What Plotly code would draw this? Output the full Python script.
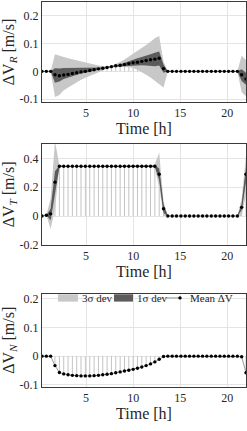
import plotly.graph_objects as go

# ---------------- data ----------------
time_h = [0.31, 0.77, 1.23, 1.69, 2.16, 2.62, 3.08, 3.54, 4.00, 4.46, 4.92, 5.39,
          5.85, 6.31, 6.77, 7.23, 7.69, 8.15, 8.62, 9.08, 9.54, 10.00, 10.46, 10.92,
          11.38, 11.85, 12.31, 12.77, 13.23, 13.69, 14.15, 14.61, 15.08, 15.54, 16.00, 16.46,
          16.92, 17.38, 17.84, 18.31, 18.77, 19.23, 19.69, 20.15, 20.61, 21.08, 21.54, 22.00]

# Radial
dvr_mean = [0, 0, 0, -0.012, -0.016, -0.013, -0.011, -0.008, -0.005, -0.002, 0.000, 0.003,
            0.006, 0.009, 0.011, 0.014, 0.017, 0.020, 0.022, 0.025, 0.028, 0.031, 0.033, 0.036,
            0.039, 0.042, 0.044, 0.047, 0.010, 0, 0, 0, 0, 0, 0, 0,
            0, 0, 0, 0, 0, 0, 0, 0, 0, 0, -0.012, -0.028]
dvr_up3 = [0, 0, 0, 0.062, 0.058, 0.052, 0.047, 0.043, 0.039, 0.035, 0.031, 0.027,
           0.024, 0.021, 0.019, 0.018, 0.020, 0.026, 0.034, 0.043, 0.053, 0.062, 0.072, 0.083,
           0.095, 0.107, 0.119, 0.127, 0.035, 0, 0, 0, 0, 0, 0, 0,
           0, 0, 0, 0, 0, 0, 0, 0, 0, 0, 0.057, 0.040]
dvr_lo3 = [0, 0, 0, -0.092, -0.085, -0.068, -0.058, -0.047, -0.038, -0.030, -0.023, -0.016,
           -0.010, -0.004, 0.003, 0.009, 0.014, 0.015, 0.016, 0.016, 0.015, 0.012, 0.006, -0.002,
           -0.012, -0.022, -0.034, -0.045, -0.058, 0, 0, 0, 0, 0, 0, 0,
           0, 0, 0, 0, 0, 0, 0, 0, 0, 0, -0.075, -0.090]
dvr_up1 = [0, 0, 0, 0.011, 0.010, 0.012, 0.012, 0.013, 0.013, 0.013, 0.013, 0.013,
           0.013, 0.013, 0.014, 0.015, 0.018, 0.022, 0.026, 0.031, 0.037, 0.042, 0.047, 0.052,
           0.058, 0.062, 0.067, 0.072, 0.025, 0, 0, 0, 0, 0, 0, 0,
           0, 0, 0, 0, 0, 0, 0, 0, 0, 0, 0.008, -0.005]
dvr_lo1 = [0, 0, 0, -0.041, -0.037, -0.028, -0.023, -0.017, -0.012, -0.008, -0.005, -0.002,
           0.001, 0.004, 0.008, 0.012, 0.016, 0.017, 0.018, 0.020, 0.021, 0.022, 0.021, 0.022,
           0.021, 0.019, 0.018, 0.021, -0.005, 0, 0, 0, 0, 0, 0, 0,
           0, 0, 0, 0, 0, 0, 0, 0, 0, 0, -0.035, -0.048]

# Transverse
dvt_mean = [0, 0.005, 0.015, 0.235] + [0.345] * 23 + [0.29, 0.05] + [0] * 17 + [0.06, 0.29]
dvt_up3 = [0, 0.005, 0.12, 0.52, 0.352] + [0.347] * 21 + [0.36, 0.44, 0.10] + [0] * 17 + [0.12, 0.42]
dvt_lo3 = [0, 0.005, -0.09, 0.05, 0.338] + [0.343] * 21 + [0.33, 0.20, 0.0] + [0] * 17 + [0.0, 0.15]
dvt_up1 = [0, 0.005, 0.05, 0.31, 0.35] + [0.346] * 21 + [0.35, 0.33, 0.08] + [0] * 17 + [0.08, 0.34]
dvt_lo1 = [0, 0.005, -0.03, 0.16, 0.34] + [0.344] * 21 + [0.34, 0.25, 0.02] + [0] * 17 + [0.04, 0.24]

# Normal
dvn_mean = [0, 0, 0, -0.033, -0.057, -0.062, -0.065, -0.067, -0.068, -0.069, -0.069, -0.069,
            -0.068, -0.067, -0.065, -0.063, -0.061, -0.058, -0.055, -0.052, -0.049, -0.046, -0.042, -0.038,
            -0.033, -0.027, -0.020, -0.011, -0.001, 0, 0, 0, 0, 0, 0, 0,
            0, 0, 0, 0, 0, 0, 0, 0, 0, 0, -0.002, -0.058]

x_ticks = [5, 10, 15, 20]
x_ticktext = ["5", "10", "15", "20"]
y_ticks = [[-0.1, 0, 0.1, 0.2], [-0.2, 0, 0.2, 0.4], [-0.1, 0, 0.1, 0.2]]
y_ticktext = [["-0.1", "0", "0.1", "0.2"], ["-0.2", "0", "0.2", "0.4"], ["-0.1", "0", "0.1", "0.2"]]
y_ranges = [[-0.11, 0.25], [-0.2, 0.5], [-0.107, 0.218]]
y_titles = ["ΔV<sub><i>R</i></sub> [m/s]", "ΔV<sub><i>T</i></sub> [m/s]", "ΔV<sub><i>N</i></sub> [m/s]"]
legend_labels = ["3σ dev", "1σ dev", "Mean ΔV"]

# ---------------- style ----------------
W, H = 247, 431
ML, MR = 42, 1
LIGHT = "#c8c8c8"
DARK = "#5c5c5c"
STEM = "#c4c4c4"
AXC = "#3a3a3a"
GRID = "#e4e4e4"
TXT = "#262626"
domains = [[1 - 102 / H, 1.0], [1 - 248 / H, 1 - 145 / H], [1 - 393 / H, 1 - 298 / H]]

fig = go.Figure()

def add_panel(i, mean, up3=None, lo3=None, up1=None, lo1=None):
    xa = "x" if i == 0 else f"x{i+1}"
    ya = "y" if i == 0 else f"y{i+1}"
    sx, sy = [], []
    for t, m in zip(time_h, mean):
        sx += [t, t, None]
        sy += [0, m, None]
    fig.add_trace(go.Scatter(x=sx, y=sy, mode="lines", line=dict(color=STEM, width=1),
                             xaxis=xa, yaxis=ya, showlegend=False, hoverinfo="skip"))
    if up3 is not None:
        fig.add_trace(go.Scatter(x=time_h, y=lo3, mode="lines", line=dict(width=0, color=LIGHT),
                                 xaxis=xa, yaxis=ya, showlegend=False, hoverinfo="skip"))
        fig.add_trace(go.Scatter(x=time_h, y=up3, mode="lines", line=dict(width=0, color=LIGHT),
                                 fill="tonexty", fillcolor=LIGHT, name=legend_labels[0],
                                 xaxis=xa, yaxis=ya, showlegend=False))
        fig.add_trace(go.Scatter(x=time_h, y=lo1, mode="lines", line=dict(width=0, color=DARK),
                                 xaxis=xa, yaxis=ya, showlegend=False, hoverinfo="skip"))
        fig.add_trace(go.Scatter(x=time_h, y=up1, mode="lines", line=dict(width=0, color=DARK),
                                 fill="tonexty", fillcolor=DARK, name=legend_labels[1],
                                 xaxis=xa, yaxis=ya, showlegend=False))
    fig.add_trace(go.Scatter(x=time_h, y=mean, mode="lines+markers", name=legend_labels[2],
                             line=dict(color="#555555", width=0.6),
                             marker=dict(color="black", size=3.4),
                             xaxis=xa, yaxis=ya, showlegend=False))

add_panel(0, dvr_mean, dvr_up3, dvr_lo3, dvr_up1, dvr_lo1)
add_panel(1, dvt_mean, dvt_up3, dvt_lo3, dvt_up1, dvt_lo1)
add_panel(2, dvn_mean)

tickfont = dict(family="Liberation Serif", size=12, color=TXT)
xtitlefont = dict(family="Liberation Serif", size=16, color=TXT)
ytitlefont = dict(family="Liberation Serif", size=16, color=TXT)

layout = dict(width=W, height=H, margin=dict(l=ML, r=MR, t=0, b=0),
              paper_bgcolor="white", plot_bgcolor="white", showlegend=False)
for i in range(3):
    xk = "xaxis" if i == 0 else f"xaxis{i+1}"
    yk = "yaxis" if i == 0 else f"yaxis{i+1}"
    ya = "y" if i == 0 else f"y{i+1}"
    xa = "x" if i == 0 else f"x{i+1}"
    layout[xk] = dict(domain=[0, 1], anchor=ya, range=[0.31, 22.0],
                      tickvals=x_ticks, ticktext=x_ticktext, tickfont=tickfont,
                      showgrid=True, gridcolor=GRID, gridwidth=1, zeroline=False,
                      showline=True, linecolor=AXC, linewidth=1, mirror=True, ticks="",
                      title=dict(text="Time [h]", font=xtitlefont, standoff=3))
    layout[yk] = dict(domain=domains[i], anchor=xa, range=y_ranges[i],
                      tickvals=y_ticks[i], ticktext=y_ticktext[i], tickfont=tickfont,
                      showgrid=True, gridcolor=GRID, gridwidth=1, zeroline=False,
                      showline=True, linecolor=AXC, linewidth=1, mirror=True, ticks="",
                      title=dict(text=y_titles[i], font=ytitlefont, standoff=3))
fig.update_layout(**layout)

# manual legend in the third panel
def px2x(p):
    return (p - ML) / (W - ML - MR)

def py2y(p):
    return 1 - p / H

ytop, ybot, ymid = 298.5, 306, 302.2
fig.add_shape(type="rect", xref="paper", yref="paper", x0=px2x(58), x1=px2x(78),
              y0=py2y(ybot), y1=py2y(ytop), fillcolor=LIGHT, line=dict(width=0))
fig.add_shape(type="rect", xref="paper", yref="paper", x0=px2x(114), x1=px2x(133),
              y0=py2y(ybot), y1=py2y(ytop), fillcolor=DARK, line=dict(width=0))
fig.add_shape(type="line", xref="paper", yref="paper", x0=px2x(166), x1=px2x(181),
              y0=py2y(ymid), y1=py2y(ymid), line=dict(color="#555555", width=0.6))
fig.add_shape(type="circle", xref="paper", yref="paper", x0=px2x(178.3), x1=px2x(181.7),
              y0=py2y(ymid + 1.7), y1=py2y(ymid - 1.7), fillcolor="black", line=dict(width=0))
legfont = dict(family="Liberation Serif", size=11, color=TXT)
for label, xpx in zip(legend_labels, [79.5, 135, 188]):
    fig.add_annotation(x=px2x(xpx), y=py2y(ymid), xref="paper", yref="paper", text=label,
                       showarrow=False, xanchor="left", yanchor="middle", font=legfont)

fig.write_html("out.html", config={"displayModeBar": False},
               post_script="document.body.style.margin='0';document.body.style.overflow='hidden';")
